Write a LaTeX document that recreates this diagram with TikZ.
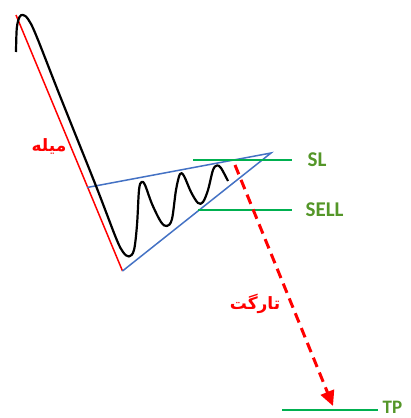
\documentclass[tikz,border=0pt]{standalone}
\usepackage{fontspec}
\usepackage{xcolor}
\usepackage{tikz}
\usetikzlibrary{arrows.meta}
\newfontfamily\latinfont{Carlito}
\newfontfamily\arabicfont[Script=Arabic]{DejaVu Sans}
\TeXXeTstate=1
\definecolor{poleRed}{RGB}{255,0,0}
\definecolor{wedgeBlue}{RGB}{68,114,196}
\definecolor{levelGreen}{RGB}{0,176,80}
\definecolor{labelGreen}{RGB}{84,150,40}
\tikzset{every node/.append style={font=\footnotesize}}
\tikzset{
  level/.style={levelGreen, line width=1.2pt},
  levellabel/.style={right, inner sep=0pt, text=labelGreen, font=\latinfont\bfseries\fontsize{21}{21}\selectfont},
  farsi/.style={inner sep=0pt, text=poleRed, font=\arabicfont\bfseries\fontsize{17}{17}\selectfont}
}

\begin{document}
\begin{tikzpicture}[x=1pt, y=-1pt, >=stealth]
    \useasboundingbox (0,0) rectangle (411,418);
    \coordinate (PT) at (16,15);
    \coordinate (PB) at (122.5,271);
    \coordinate (UL) at (87,187.5);
    \coordinate (AP) at (271,153);
    \coordinate (SLa) at (193,160);
    \coordinate (SLb) at (292,160);
    \coordinate (SEa) at (198,210);
    \coordinate (SEb) at (292,210);
    \coordinate (TPa) at (282,410);
    \coordinate (TPb) at (378,410);
    \coordinate (DA) at (235,165);
    \coordinate (DB) at (333,406);
    % pole and wedge
    \draw[poleRed, line width=1.5pt] (PT) -- (PB);
    \draw[wedgeBlue, line width=1.5pt] (UL) -- (AP) -- (PB);
    % price
    \draw[line width=2.2pt, line join=round] plot[smooth, tension=0.55] coordinates {
        (16,52) (16.8,28) (19.5,17) (23,15) (28,19) (36,35) (60,96) (96,186)
        (116,238) (123,252) (129,256.5) (134,250) (137,225) (139,190) (141.5,182)
        (145,185) (152,204) (161,222) (167,226) (172,219) (176,190) (180,174)
        (184,176) (191,192) (198,203) (203,202) (208,190) (213,170) (217,165.5)
        (221,168) (228,181)};
    % levels
    \draw[level] (SLa) -- (SLb) node[levellabel, xshift=15pt] (sltxt) {SL};
    \draw[level] (SEa) -- (SEb) node[levellabel, xshift=13pt] (selltxt) {SELL};
    \draw[level] (TPa) -- (TPb) node[levellabel, xshift=4pt, yshift=3pt, font=\latinfont\bfseries\fontsize{19}{19}\selectfont] (tptxt) {TP};
    % target
    \draw[poleRed, line width=3pt, dash pattern=on 10pt off 6pt,
        -{Triangle[width=14pt,length=15pt]}] (DA) -- (DB);
    \node[farsi] (pole) at (49,146) {\beginR میله\endR};
    \node[farsi] (target) at (255,304) {\beginR تارگت\endR};
\end{tikzpicture}
\end{document}
